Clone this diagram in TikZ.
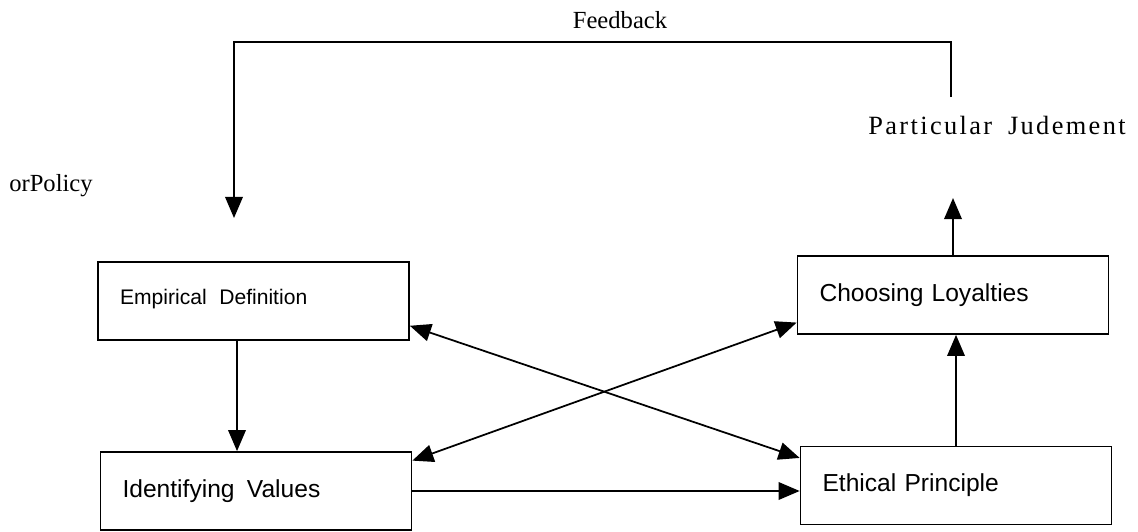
\documentclass[tikz,border=0pt]{standalone}
\usepackage{fontspec}
\setmainfont{Liberation Serif}
\newfontfamily\boxfont{Liberation Sans}
\usetikzlibrary{arrows.meta}

\begin{document}
\begin{tikzpicture}[
  x = 0.02cm, y = -0.02cm,
  line width = 1pt,
  >={Triangle[length=12pt,width=10pt]},
  stage/.style={draw, rectangle, minimum width=6.22cm, minimum height=1.56cm,
    inner xsep=0.44cm, text width=5.34cm, align=left,
    font=\boxfont\fontsize{14pt}{16pt}\selectfont},
  tag/.style={font=\fontsize{14pt}{16pt}\selectfont}]
\useasboundingbox (0,0) rectangle (1138,531);
% stages
\node[stage, font=\boxfont\fontsize{12pt}{14pt}\selectfont] (emp) at (253.5,301) {\raisebox{5pt}{Empirical\hspace{0.6em}Definition}};
\node[stage] (idv) at (256,491) {Identifying\hspace{0.5em}Values};
\node[stage] (cho) at (953,295) {Choosing Loyalties};
\node[stage] (eth) at (956,485.5) {Ethical Principle};
% labels
\node[tag] (fb) at (620,20) {Feedback};
\node[tag] (pol) at (51,186) {orPolicy};
\node[tag, font=\fontsize{15pt}{17pt}\selectfont] (pjt) at (997,125) {\addfontfeature{LetterSpace=9}Particular\hspace{0.6em}Judement};
\coordinate (pj) at (953,198);
\coordinate (fbs) at (951,97);
\coordinate (fbe) at (234,218);
% arrows
\draw[->] ([xshift=-0.33cm]emp.south) -- ([xshift=-0.33cm]emp.south |- idv.north);
\draw[->] (idv.east) -- (idv.east -| eth.west);
\draw[->] (eth.north) -- (eth.north |- cho.south);
\draw[->] (cho.north) -- (pj);
\draw[<->] (emp.-9.5) -- (eth.170);
\draw[<->] (idv.11.3) -- (cho.190);
\draw[->] (fbs) -- ++(0,-55) -| (fbe);
\end{tikzpicture}
\end{document}
